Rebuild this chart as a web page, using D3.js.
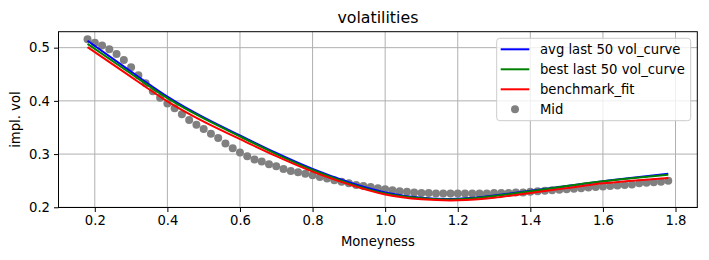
<!DOCTYPE html>
<html>
<head>
<meta charset="utf-8">
<script src="https://cdn.jsdelivr.net/npm/d3@7"></script>
<style>
    body { margin: 0; background: #fff; }
    svg text { font-family: "DejaVu Sans", sans-serif; fill: #000; }
</style>
</head>
<body>
<svg id="chart" width="709" height="260"></svg>
<script>
// Mid quotes, one every 0.02 of moneyness
const midMoneyness = [0.18, 0.20, 0.22, 0.24, 0.26, 0.28, 0.30, 0.32, 0.34, 0.36, 0.38, 0.40, 0.42, 0.44, 0.46, 0.48,
    0.50, 0.52, 0.54, 0.56, 0.58, 0.60, 0.62, 0.64, 0.66, 0.68, 0.70, 0.72, 0.74, 0.76, 0.78, 0.80,
    0.82, 0.84, 0.86, 0.88, 0.90, 0.92, 0.94, 0.96, 0.98, 1.00, 1.02, 1.04, 1.06, 1.08, 1.10, 1.12,
    1.14, 1.16, 1.18, 1.20, 1.22, 1.24, 1.26, 1.28, 1.30, 1.32, 1.34, 1.36, 1.38, 1.40, 1.42, 1.44,
    1.46, 1.48, 1.50, 1.52, 1.54, 1.56, 1.58, 1.60, 1.62, 1.64, 1.66, 1.68, 1.70, 1.72, 1.74, 1.76, 1.78];
const midVol = [0.516, 0.509, 0.504, 0.497, 0.488, 0.477, 0.463, 0.448, 0.433, 0.418, 0.406, 0.395, 0.386, 0.375, 0.364, 0.355,
    0.347, 0.338, 0.330, 0.320, 0.311, 0.303, 0.296, 0.290, 0.286, 0.281, 0.277, 0.272, 0.268, 0.266, 0.263, 0.260,
    0.257, 0.254, 0.251, 0.248, 0.245, 0.242, 0.240, 0.238, 0.236, 0.234, 0.232, 0.230, 0.229, 0.228, 0.227, 0.227,
    0.226, 0.226, 0.226, 0.226, 0.226, 0.226, 0.226, 0.226, 0.227, 0.227, 0.227, 0.228, 0.228, 0.229, 0.230, 0.231,
    0.232, 0.233, 0.234, 0.235, 0.236, 0.237, 0.238, 0.239, 0.240, 0.241, 0.242, 0.243, 0.245, 0.246, 0.247, 0.248, 0.250];

// Fitted curves
const curveMoneyness = [0.18, 0.30, 0.40, 0.50, 0.60, 0.70, 0.80, 0.90, 1.00, 1.10, 1.20, 1.30, 1.40, 1.50, 1.60, 1.70, 1.78];
const avgVol =       [0.513, 0.455, 0.408, 0.369, 0.335, 0.302, 0.272, 0.247, 0.228, 0.218, 0.216, 0.222, 0.231, 0.240, 0.249, 0.257, 0.263];
const bestVol =      [0.507, 0.451, 0.405, 0.367, 0.333, 0.300, 0.270, 0.245, 0.226, 0.217, 0.215, 0.221, 0.230, 0.240, 0.249, 0.256, 0.261];
const benchmarkVol = [0.501, 0.445, 0.399, 0.361, 0.328, 0.296, 0.267, 0.243, 0.224, 0.215, 0.213, 0.218, 0.227, 0.236, 0.245, 0.251, 0.255];

const xTicks = [0.2, 0.4, 0.6, 0.8, 1.0, 1.2, 1.4, 1.6, 1.8];
const yTicks = [0.2, 0.3, 0.4, 0.5];

const series = [
    {name: 'avg last 50 vol_curve', values: avgVol, color: '#0000ff'},
    {name: 'best last 50 vol_curve', values: bestVol, color: '#008000'},
    {name: 'benchmark_fit', values: benchmarkVol, color: '#ff0000'}
];

const LEFT = 58.5, RIGHT = 697.3, TOP = 31.7, BOTTOM = 207.5;
const FONT = 13.2;

const svg = d3.select('#chart');

const xScale = d3.scaleLinear()
    .domain([0.1, 1.86])
    .range([LEFT, RIGHT]);

const yScale = d3.scaleLinear()
    .domain([0.1996, 0.530])
    .range([BOTTOM, TOP]);

// grid
const grid = svg.append('g');
grid.selectAll('.vgrid')
    .data(xTicks)
    .join('line')
    .attr('x1', d => xScale(d)).attr('x2', d => xScale(d))
    .attr('y1', TOP).attr('y2', BOTTOM)
    .attr('stroke', '#b0b0b0').attr('stroke-width', 1);
grid.selectAll('.hgrid')
    .data(yTicks)
    .join('line')
    .attr('x1', LEFT).attr('x2', RIGHT)
    .attr('y1', d => yScale(d)).attr('y2', d => yScale(d))
    .attr('stroke', '#b0b0b0').attr('stroke-width', 1);

// axes
const xAxis = svg.append('g')
    .attr('transform', `translate(0,${BOTTOM})`)
    .call(d3.axisBottom(xScale).tickValues(xTicks).tickFormat(d3.format('.1f')).tickSize(4.5).tickPadding(4));
const yAxis = svg.append('g')
    .attr('transform', `translate(${LEFT},0)`)
    .call(d3.axisLeft(yScale).tickValues(yTicks).tickFormat(d3.format('.1f')).tickSize(4.5).tickPadding(4));

[xAxis, yAxis].forEach(ax => {
    ax.select('.domain').remove();
    ax.selectAll('line').attr('stroke', '#000');
    ax.selectAll('text')
        .attr('font-size', FONT)
        .attr('font-family', '"DejaVu Sans", sans-serif')
        .attr('fill', '#000');
});

// Mid quotes go below the lines
svg.append('g')
    .selectAll('circle')
    .data(midMoneyness.map((m, i) => [m, midVol[i]]))
    .join('circle')
    .attr('cx', d => xScale(d[0]))
    .attr('cy', d => yScale(d[1]))
    .attr('r', 4)
    .attr('fill', '#808080');

const line = d3.line()
    .x(d => xScale(d[0]))
    .y(d => yScale(d[1]))
    .curve(d3.curveNatural);

svg.append('g')
    .selectAll('path')
    .data(series)
    .join('path')
    .attr('d', s => line(curveMoneyness.map((m, i) => [m, s.values[i]])))
    .attr('fill', 'none')
    .attr('stroke', s => s.color)
    .attr('stroke-width', 2);

// frame
svg.append('rect')
    .attr('x', LEFT).attr('y', TOP)
    .attr('width', RIGHT - LEFT).attr('height', BOTTOM - TOP)
    .attr('fill', 'none')
    .attr('stroke', '#000')
    .attr('stroke-width', 1);

// legend
const legend = svg.append('g').attr('transform', 'translate(496.7,38.3)');
legend.append('rect')
    .attr('width', 194).attr('height', 82.4)
    .attr('rx', 3)
    .attr('fill', '#fff').attr('fill-opacity', 0.8)
    .attr('stroke', '#cccccc').attr('stroke-width', 1);

const entries = [...series, {name: 'Mid', color: '#808080', marker: true}];
const rows = legend.selectAll('.entry')
    .data(entries)
    .join('g')
    .attr('transform', (d, i) => `translate(0,${11 + i * 20})`);

rows.filter(d => !d.marker)
    .append('line')
    .attr('x1', 4).attr('x2', 32.6)
    .attr('stroke', d => d.color)
    .attr('stroke-width', 2);
rows.filter(d => d.marker)
    .append('circle')
    .attr('cx', 18.3).attr('r', 4)
    .attr('fill', d => d.color);
rows.append('text')
    .attr('x', 43.3)
    .attr('dy', '0.35em')
    .attr('font-size', FONT)
    .text(d => d.name);

// labels
svg.append('text')
    .attr('x', (LEFT + RIGHT) / 2).attr('y', 23)
    .attr('text-anchor', 'middle')
    .attr('font-size', 15.8)
    .text('volatilities');

svg.append('text')
    .attr('x', (LEFT + RIGHT) / 2).attr('y', 246)
    .attr('text-anchor', 'middle')
    .attr('font-size', FONT)
    .text('Moneyness');

svg.append('text')
    .attr('transform', `translate(20,${(TOP + BOTTOM) / 2}) rotate(-90)`)
    .attr('text-anchor', 'middle')
    .attr('font-size', FONT)
    .text('impl. vol');
</script>
</body>
</html>
